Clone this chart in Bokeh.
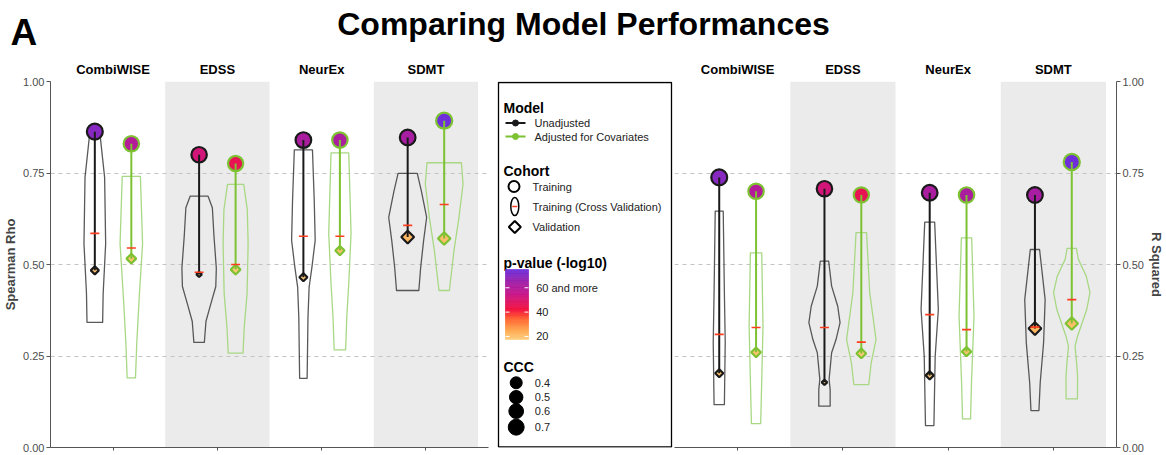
import numpy as np
from bokeh.plotting import figure
from bokeh.layouts import row
from bokeh.models import (Range1d, FixedTicker, NumeralTickFormatter, LinearAxis,
                          ColumnDataSource, LinearColorMapper)
from bokeh.transform import transform
from bokeh.core.properties import value
from bokeh.embed import file_html
from bokeh.resources import INLINE

FONT = "Liberation Sans"

# ---------------------------------------------------------------- data
outcomes = ["CombiWISE", "EDSS", "NeurEx", "SDMT"]

# Spearman rho
rho_train_unadj = [0.863, 0.800, 0.840, 0.847]
rho_train_adj = [0.830, 0.776, 0.840, 0.893]
rho_cv_unadj = [0.585, 0.479, 0.577, 0.607]
rho_cv_adj = [0.545, 0.500, 0.577, 0.664]
rho_val_unadj = [0.484, 0.473, 0.465, 0.575]
rho_val_adj = [0.516, 0.486, 0.538, 0.571]

# R squared
r2_train_unadj = [0.738, 0.707, 0.696, 0.690]
r2_train_adj = [0.700, 0.690, 0.690, 0.780]
r2_cv_unadj = [0.309, 0.328, 0.363, 0.329]
r2_cv_adj = [0.328, 0.288, 0.322, 0.404]
r2_val_unadj = [0.203, 0.178, 0.197, 0.325]
r2_val_adj = [0.260, 0.257, 0.262, 0.339]

# p-value (-log10)
logp_train_unadj = [70, 52, 62, 63]
logp_train_adj = [60, 46, 62, 75]
logp_val_unadj = [20, 18, 19, 22]
logp_val_adj = [20, 19, 20, 21]

# concordance correlation coefficient
ccc_train_unadj = [0.70, 0.66, 0.68, 0.68]
ccc_train_adj = [0.66, 0.64, 0.66, 0.72]
ccc_val_unadj = [0.18, 0.08, 0.18, 0.45]
ccc_val_adj = [0.26, 0.26, 0.24, 0.43]

# cross-validation distributions: (levels, half widths)
rho_violin_unadj = [
    ([0.342, 0.421, 0.557, 0.738, 0.863], [0.075, 0.080, 0.104, 0.094, 0.047]),
    ([0.287, 0.345, 0.393, 0.440, 0.490, 0.580, 0.655, 0.687], [0.050, 0.066, 0.113, 0.160, 0.165, 0.142, 0.127, 0.085]),
    ([0.189, 0.356, 0.438, 0.493, 0.566, 0.675, 0.813], [0.036, 0.044, 0.055, 0.082, 0.113, 0.104, 0.087]),
    ([0.429, 0.493, 0.566, 0.629, 0.700, 0.749], [0.107, 0.125, 0.153, 0.182, 0.132, 0.092]),
]
rho_violin_adj = [
    ([0.190, 0.284, 0.421, 0.557, 0.741], [0.040, 0.052, 0.078, 0.108, 0.087]),
    ([0.258, 0.329, 0.421, 0.557, 0.650, 0.719], [0.071, 0.083, 0.110, 0.120, 0.112, 0.078]),
    ([0.267, 0.356, 0.448, 0.585, 0.805], [0.055, 0.066, 0.085, 0.107, 0.085]),
    ([0.429, 0.538, 0.629, 0.720, 0.778], [0.050, 0.094, 0.142, 0.181, 0.165]),
]
r2_violin_unadj = [
    ([0.117, 0.287, 0.423, 0.646], [0.049, 0.057, 0.049, 0.038]),
    ([0.113, 0.158, 0.186, 0.259, 0.295, 0.341, 0.386, 0.441, 0.509], [0.054, 0.054, 0.044, 0.068, 0.110, 0.148, 0.126, 0.068, 0.040]),
    ([0.060, 0.249, 0.377, 0.616], [0.040, 0.052, 0.082, 0.047]),
    ([0.101, 0.177, 0.286, 0.404, 0.541], [0.038, 0.050, 0.082, 0.097, 0.044]),
]
r2_violin_adj = [
    ([0.065, 0.195, 0.331, 0.532], [0.044, 0.055, 0.066, 0.054]),
    ([0.172, 0.231, 0.295, 0.423, 0.587], [0.071, 0.094, 0.140, 0.080, 0.050]),
    ([0.078, 0.177, 0.359, 0.573], [0.038, 0.047, 0.071, 0.049]),
    ([0.133, 0.195, 0.231, 0.277, 0.304, 0.341, 0.377, 0.423, 0.468, 0.514, 0.544],
     [0.054, 0.055, 0.046, 0.031, 0.055, 0.099, 0.142, 0.173, 0.138, 0.063, 0.044]),
]

ccc_legend = [0.4, 0.5, 0.6, 0.7]
pval_ticks = [20, 40, 60]
pval_labels = ["20", "40", "60 and more"]

# ---------------------------------------------------------------- styles
BLACK = "#1a1a1a"
GREEN = "#7dc232"
GREEN_LIGHT = "#a8d884"
RED_DASH = "#ff3d1f"
GRAY_BG = "#ebebeb"
AXIS_GRAY = "#555555"
TICK_TEXT = "#4d4d4d"
DODGE = 0.175
BORDER_T, BORDER_B = 26, 8
ROW_H = 400

P_LOW, P_HIGH = 17.5, 75.0
stop_v = [17.5, 25, 35, 42, 55, 65, 75]
stop_c = ["#ffd080", "#ffa850", "#ff6030", "#f5123c", "#c8168a", "#a020a8", "#6e2fda"]


def _rgb(h):
    return [int(h[i:i + 2], 16) for i in (1, 3, 5)]


_grid = np.linspace(P_LOW, P_HIGH, 256)
_chan = np.array([_rgb(c) for c in stop_c])
palette = ["#%02x%02x%02x" % tuple(int(round(np.interp(v, stop_v, _chan[:, k]))) for k in range(3))
           for v in _grid]
pmapper = LinearColorMapper(palette=palette, low=P_LOW, high=P_HIGH)


def size_from_ccc(c):
    return 19.0 * np.sqrt(np.asarray(c, dtype=float))


def style_axis(ax):
    ax.axis_line_color = AXIS_GRAY
    ax.major_tick_line_color = AXIS_GRAY
    ax.minor_tick_line_color = None
    ax.major_tick_in = 0
    ax.major_label_text_font = FONT
    ax.major_label_text_font_size = "11px"
    ax.major_label_text_color = TICK_TEXT


def bare_figure(**kw):
    p = figure(title=None, output_backend="svg", toolbar_location=None, **kw)
    p.outline_line_color = None
    p.background_fill_color = "white"
    p.border_fill_color = "white"
    return p


def build_panel(width, side, ylabel, border_l, border_r,
                train_u, train_a, cv_u, cv_a, val_u, val_a, vio_u, vio_a):
    p = bare_figure(width=width, height=ROW_H, x_range=Range1d(0.4, 4.6), y_range=Range1d(0, 1),
                    y_axis_location=side,
                    min_border_left=border_l, min_border_right=border_r,
                    min_border_top=BORDER_T, min_border_bottom=BORDER_B)

    pos = np.arange(1, len(outcomes) + 1)

    # alternating shaded outcome columns
    shade = pos[1::2]
    p.quad(left=shade - 0.5, right=shade + 0.5, bottom=0, top=1,
           fill_color=GRAY_BG, line_color=None, level="image")

    p.xgrid.visible = False
    p.ygrid.ticker = FixedTicker(ticks=[0.25, 0.5, 0.75, 1.0])
    p.ygrid.grid_line_color = "#c4c4c4"
    p.ygrid.grid_line_dash = "4 4"
    p.ygrid.grid_line_width = 1

    yax = p.yaxis[0]
    yax.ticker = FixedTicker(ticks=[0, 0.25, 0.5, 0.75, 1.0])
    yax.formatter = NumeralTickFormatter(format="0.00")
    yax.axis_label = ylabel
    yax.axis_label_text_font = FONT
    yax.axis_label_text_font_style = "bold"
    yax.axis_label_text_font_size = "13px"
    yax.axis_label_standoff = 2
    yax.major_tick_out = 4
    yax.major_label_standoff = 2
    style_axis(yax)

    xax = p.xaxis[0]
    xax.ticker = FixedTicker(ticks=list(pos))
    style_axis(xax)
    xax.major_label_overrides = {int(k): "" for k in pos}
    xax.major_label_text_font_size = "1px"
    xax.major_label_standoff = 0
    xax.major_tick_out = 3

    strip = LinearAxis(ticker=FixedTicker(ticks=list(pos)),
                       major_label_overrides={int(k): n for k, n in zip(pos, outcomes)})
    strip.axis_line_color = None
    strip.major_tick_line_color = None
    strip.minor_tick_line_color = None
    strip.major_tick_out = 0
    strip.major_tick_in = 0
    strip.major_label_standoff = 5
    strip.major_label_text_font = FONT
    strip.major_label_text_font_style = "bold"
    strip.major_label_text_font_size = "13px"
    strip.major_label_text_color = "black"
    p.add_layout(strip, "above")

    groups = [
        (pos - DODGE, train_u, cv_u, val_u, vio_u, logp_train_unadj, logp_val_unadj,
         ccc_train_unadj, ccc_val_unadj, BLACK, "#474747", 0.9),
        (pos + DODGE, train_a, cv_a, val_a, vio_a, logp_train_adj, logp_val_adj,
         ccc_train_adj, ccc_val_adj, GREEN, GREEN_LIGHT, 1.0),
    ]

    # violins of the cross-validation estimates
    for (xs, tr, cv, va, vio, lpt, lpv, cct, ccv, col, vcol, valpha) in groups:
        pxs, pys = [], []
        for xc, (lev, hw) in zip(xs, vio):
            lev = np.asarray(lev)
            hw = np.asarray(hw)
            pxs.append(list(xc - hw) + list((xc + hw)[::-1]))
            pys.append(list(lev) + list(lev[::-1]))
        p.patches(xs=pxs, ys=pys, fill_color=None, line_color=vcol,
                  line_alpha=valpha, line_width=1.3, line_join="round")

    # training / validation points, connecting stems and CV means
    for (xs, tr, cv, va, vio, lpt, lpv, cct, ccv, col, vcol, valpha) in groups:
        src = ColumnDataSource(dict(
            x=xs, train=tr, cv=cv, val=va, lpt=lpt, lpv=lpv,
            st=size_from_ccc(cct), sv=size_from_ccc(ccv) / np.sqrt(2)))
        p.scatter("x", "train", source=src, marker="circle", size="st",
                  fill_color=transform("lpt", pmapper), line_color=col, line_width=2.2)
        p.scatter("x", "val", source=src, marker="square", angle=np.pi / 4, size="sv",
                  fill_color=transform("lpv", pmapper), line_color=col, line_width=2.2)
        p.segment(x0="x", y0="val", x1="x", y1="train", source=src,
                  line_color=col, line_width=2)
        p.scatter("x", "cv", source=src, marker="dash", size=9,
                  line_color=RED_DASH, line_width=1.6)
    return p


left = build_panel(493, "left", "Spearman Rho", 43, 5,
                   rho_train_unadj, rho_train_adj, rho_cv_unadj, rho_cv_adj,
                   rho_val_unadj, rho_val_adj, rho_violin_unadj, rho_violin_adj)
right = build_panel(493, "right", "R Squared", 1, 45,
                    r2_train_unadj, r2_train_adj, r2_cv_unadj, r2_cv_adj,
                    r2_val_unadj, r2_val_adj, r2_violin_unadj, r2_violin_adj)

# ---------------------------------------------------------------- legend
# y is measured in pixels from the top of this column
lg = bare_figure(width=180, height=ROW_H, x_range=Range1d(0, 180),
                 y_range=Range1d(ROW_H - BORDER_B, BORDER_T),
                 x_axis_location=None, y_axis_location=None,
                 min_border_left=0, min_border_right=0,
                 min_border_top=BORDER_T, min_border_bottom=BORDER_B)
lg.grid.visible = False


def label(fig, x, y, txt, size="11px", bold=False, color="black", align="left"):
    fig.text(x=[x], y=[y], text=[txt], text_font=value(FONT), text_font_size=size,
             text_font_style="bold" if bold else "normal", text_color=color,
             text_align=align, text_baseline="middle")


lg.quad(left=5, right=178, top=27, bottom=391.5, fill_color=None, line_color="black", line_width=1.3)

# Model
label(lg, 10, 52, "Model", size="14px", bold=True)
for yy, col, name in [(67.5, BLACK, "Unadjusted"), (81, GREEN, "Adjusted for Covariates")]:
    lg.segment(x0=12, y0=yy, x1=32, y1=yy, line_color=col, line_width=2)
    lg.scatter(x=[22], y=[yy], marker="circle", size=6, fill_color=col, line_color=col)
    label(lg, 41, yy, name, color="#222222")

# Cohort
label(lg, 10, 115, "Cohort", size="14px", bold=True)
lg.scatter(x=[20.5], y=[131], marker="circle", size=11, fill_color="white",
           line_color="black", line_width=2)
label(lg, 39, 131, "Training", color="#222222")
lg.ellipse(x=[21.3], y=[151], width=8, height=18, fill_color="white",
           line_color="black", line_width=1.5)
lg.scatter(x=[21.3], y=[151], marker="dash", size=5, line_color=RED_DASH, line_width=1.5)
label(lg, 39, 151, "Training (Cross Validation)", color="#222222")
lg.scatter(x=[21.3], y=[171.5], marker="square", angle=np.pi / 4, size=8.5,
           fill_color="white", line_color="black", line_width=2)
label(lg, 39, 171.5, "Validation", color="#222222")

# p-value colour scale
label(lg, 10, 207, "p-value (-log10)", size="14px", bold=True)
BAR_L, BAR_R, BAR_B, BAR_H = 12, 35, 284, 70


def bar_y(v):
    return BAR_B - (np.asarray(v, dtype=float) - P_LOW) / (P_HIGH - P_LOW) * BAR_H


edges = np.linspace(P_LOW, P_HIGH, 81)
mids = 0.5 * (edges[:-1] + edges[1:])
bar_src = ColumnDataSource(dict(top=bar_y(edges[1:]), bottom=bar_y(edges[:-1]), mid=mids))
lg.quad(left=BAR_L, right=BAR_R, top="top", bottom="bottom", source=bar_src,
        fill_color=transform("mid", pmapper), line_color=transform("mid", pmapper),
        line_width=0.6)
ty = bar_y(pval_ticks)
lg.segment(x0=[BAR_L] * 3, x1=[BAR_L + 4] * 3, y0=ty, y1=ty, line_color="white", line_width=1)
lg.segment(x0=[BAR_R - 4] * 3, x1=[BAR_R] * 3, y0=ty, y1=ty, line_color="white", line_width=1)
for yy, t in zip(ty, pval_labels):
    label(lg, 42.7, yy, t, color="#222222")

# CCC size scale
label(lg, 10, 311, "CCC", size="14px", bold=True)
ccc_y = [327.3, 341.7, 355.7, 371.7]
lg.scatter(x=[22.7] * 4, y=ccc_y, marker="circle", size=size_from_ccc(ccc_legend),
           fill_color="black", line_color="black")
for yy, c in zip(ccc_y, ccc_legend):
    label(lg, 41.3, yy, f"{c:.1f}", color="#222222")

# ---------------------------------------------------------------- heading
head = bare_figure(width=1166, height=55, x_range=Range1d(0, 1166), y_range=Range1d(55, 0),
                   x_axis_location=None, y_axis_location=None, min_border=0)
head.grid.visible = False
label(head, 10, 31.5, "A", size="37px", bold=True)
label(head, 583, 23.5, "Comparing Model Performances", size="32px", bold=True, align="center")

body = row(left, lg, right)
open("out.html", "w").write(file_html([head, body], INLINE))
